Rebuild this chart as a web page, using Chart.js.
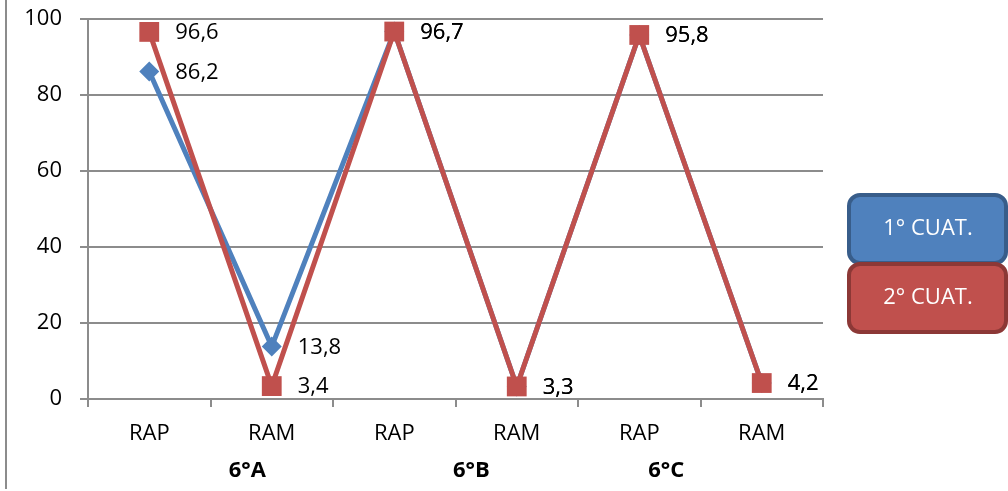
<!DOCTYPE html>
<html>
<head>
<meta charset="utf-8">
<script src="https://cdn.jsdelivr.net/npm/chart.js@4/dist/chart.umd.min.js"></script>
<style>
  html, body { margin: 0; padding: 0; background: #fff; }
  #wrap { width: 1008px; height: 491px; }
</style>
</head>
<body>
<div id="wrap"><canvas id="myChart"></canvas></div>
<script>
const categories = ['RAP', 'RAM', 'RAP', 'RAM', 'RAP', 'RAM'];
const groups = ['6°A', '6°B', '6°C'];
const cuat1 = [86.2, 13.8, 96.7, 3.3, 95.8, 4.2];
const cuat2 = [96.6, 3.4, 96.7, 3.3, 95.8, 4.2];
const yTicks = [0, 20, 40, 60, 80, 100];

const FONT = "'Open Sans', 'Noto Sans', sans-serif";
const GRID = '#8c8c8c';

// left frame line of the original chart object
const framePlugin = {
  id: 'frame',
  beforeDraw(chart) {
    const c = chart.ctx;
    c.save();
    c.strokeStyle = GRID;
    c.lineWidth = 2;
    c.beginPath();
    c.moveTo(6, 0);
    c.lineTo(6, 489);
    c.stroke();
    c.restore();
  }
};

// value labels to the right of each point, decimal comma
const valueLabels = {
  id: 'valueLabels',
  afterDatasetsDraw(chart) {
    const c = chart.ctx;
    c.save();
    c.font = '22px ' + FONT;
    c.fillStyle = '#000';
    c.textAlign = 'left';
    c.textBaseline = 'middle';
    chart.data.datasets.forEach((ds, i) => {
      chart.getDatasetMeta(i).data.forEach((pt, j) => {
        c.fillText(ds.data[j].toFixed(1).replace('.', ','), pt.x + 26, pt.y + 1);
      });
    });
    c.restore();
  }
};

// second row of category labels (class groups)
const groupLabels = {
  id: 'groupLabels',
  afterDraw(chart) {
    const x = chart.scales.x;
    const at = [0.8, 2.63, 4.22];
    const c = chart.ctx;
    c.save();
    c.font = 'bold 22px ' + FONT;
    c.fillStyle = '#000';
    c.textAlign = 'center';
    c.textBaseline = 'middle';
    groups.forEach((g, i) => c.fillText(g, x.getPixelForValue(at[i]), 471));
    c.restore();
  }
};

// boxed legend on the right
const boxLegend = {
  id: 'boxLegend',
  afterDraw(chart) {
    const c = chart.ctx;
    const borders = ['#385d8a', '#8c3836'];
    const tops = [195, 264];
    c.save();
    chart.data.datasets.forEach((ds, i) => {
      c.beginPath();
      c.roundRect(849, tops[i], 157, 68, 11);
      c.fillStyle = ds.borderColor;
      c.fill();
      c.lineWidth = 4;
      c.strokeStyle = borders[i];
      c.stroke();
      c.font = '22px ' + FONT;
      c.fillStyle = '#fff';
      c.textAlign = 'center';
      c.textBaseline = 'middle';
      c.fillText(ds.label, 928, tops[i] + 34);
    });
    c.restore();
  }
};

const ctx = document.getElementById('myChart').getContext('2d');
new Chart(ctx, {
  type: 'line',
  data: {
    labels: categories,
    datasets: [
      {
        label: '1° CUAT.',
        data: cuat1,
        borderColor: '#4f81bd',
        backgroundColor: '#4f81bd',
        borderWidth: 5,
        pointStyle: 'rectRot',
        pointRadius: 10,
        pointBorderWidth: 0,
        tension: 0,
        clip: false,
        order: 1
      },
      {
        label: '2° CUAT.',
        data: cuat2,
        borderColor: '#c0504d',
        backgroundColor: '#c0504d',
        borderWidth: 5,
        pointStyle: 'rect',
        pointRadius: 14,
        pointBorderWidth: 0,
        tension: 0,
        clip: false,
        order: 0
      }
    ]
  },
  options: {
    responsive: true,
    maintainAspectRatio: false,
    animation: false,
    layout: { autoPadding: false, padding: { top: 19, right: 185, left: 0, bottom: 0 } },
    plugins: {
      legend: { display: false },
      title: { display: false },
      tooltip: { enabled: false }
    },
    scales: {
      x: {
        offset: true,
        grid: {
          offset: true,
          drawOnChartArea: false,
          drawTicks: true,
          tickLength: 8,
          color: GRID,
          lineWidth: 2
        },
        border: { display: true, color: GRID, width: 2 },
        ticks: { color: '#000', font: { family: FONT, size: 22 }, padding: 14, maxRotation: 0 },
        afterFit(s) { s.height = 92; }
      },
      y: {
        min: 0,
        max: 100,
        afterBuildTicks(s) { s.ticks = yTicks.map(v => ({ value: v })); },
        grid: { color: GRID, lineWidth: 2, tickLength: 8 },
        border: { display: true, color: GRID, width: 2 },
        ticks: { color: '#000', font: { family: FONT, size: 22 }, padding: 18 },
        afterFit(s) { s.width = 88; s.paddingTop = 0; s.paddingBottom = 0; }
      }
    }
  },
  plugins: [framePlugin, valueLabels, groupLabels, boxLegend]
});
</script>
</body>
</html>
